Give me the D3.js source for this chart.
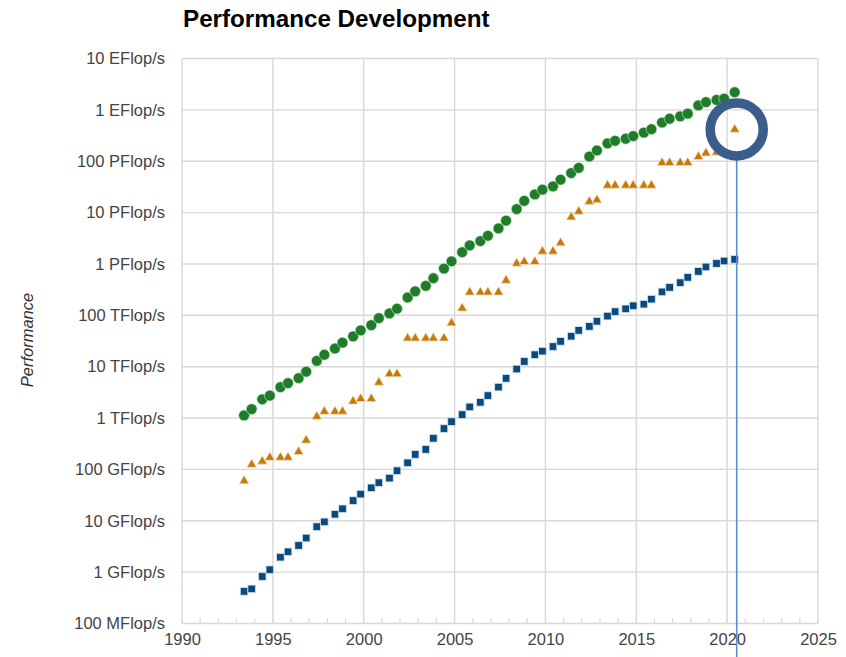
<!DOCTYPE html>
<html>
<head>
<meta charset="utf-8">
<script src="https://cdn.jsdelivr.net/npm/d3@7"></script>
<style>
  html, body { margin: 0; padding: 0; background: #fff; }
  svg { display: block; font-family: "Liberation Sans", Arial, sans-serif; }
</style>
</head>
<body>
<svg id="chart" width="846" height="657"></svg>
<script>
// TOP500 lists (year, month)
const lists = [
  "1993-06","1993-11","1994-06","1994-11","1995-06","1995-11","1996-06","1996-11",
  "1997-06","1997-11","1998-06","1998-11","1999-06","1999-11","2000-06","2000-11",
  "2001-06","2001-11","2002-06","2002-11","2003-06","2003-11","2004-06","2004-11",
  "2005-06","2005-11","2006-06","2006-11","2007-06","2007-11","2008-06","2008-11",
  "2009-06","2009-11","2010-06","2010-11","2011-06","2011-11","2012-06","2012-11",
  "2013-06","2013-11","2014-06","2014-11","2015-06","2015-11","2016-06","2016-11",
  "2017-06","2017-11","2018-06","2018-11","2019-06","2019-11","2020-06"
];
// values in GFlop/s
const sumPerf = [
  1128.6,1493.4,2317,2732,3994,4793,5981,7987,
  12970,17070,22600,29370,38930,50960,64260,88050,
  108800,134500,222400,293300,374600,527800,813100,1127000,
  1690000,2301000,2792000,3536000,4921000,6970000,11710000,16950000,
  22600000,27950000,32430000,43700000,58880000,74160000,123400000,162000000,
  223000000,250000000,274000000,309000000,361000000,420000000,566700000,672000000,
  749000000,845000000,1220000000,1414000000,1559000000,1650000000,2207000000
];
const n1Perf = [
  59.7,124.5,143.4,170.4,170.4,170.4,220.4,368.2,
  1068,1338,1338,1338,2121,2379,2379,4938,
  7226,7226,35860,35860,35860,35860,35860,70720,
  136800,280600,280600,280600,280600,478200,1026000,1105000,
  1105000,1759000,1759000,2566000,8162000,10510000,16324750,17590000,
  33862700,33862700,33862700,33862700,33862700,33862700,93014600,93014600,
  93014600,93014600,122300000,143500000,148600000,148600000,415530000
];
const n500Perf = [
  0.422,0.472,0.822,1.114,1.955,2.489,3.306,4.619,
  7.67,9.51,13.39,17.1,24.73,33.08,43.82,55.1,
  67.78,94.3,134.3,195.8,245.1,403.4,624,850.6,
  1166,1646,2026,2737,4005,5929,9000,12640,
  17090,20050,24670,31120,39190,50940,60820,76500,
  96620,117830,133700,153380,164860,206340,285880,349270,
  432200,548300,715550,874800,1021600,1142000,1228000
];
const yTickValues = [0.1,1,10,100,1e3,1e4,1e5,1e6,1e7,1e8,1e9,1e10];
const yTickLabels = ["100 MFlop/s","1 GFlop/s","10 GFlop/s","100 GFlop/s","1 TFlop/s","10 TFlop/s",
  "100 TFlop/s","1 PFlop/s","10 PFlop/s","100 PFlop/s","1 EFlop/s","10 EFlop/s"];
const xTickValues = [1990,1995,2000,2005,2010,2015,2020,2025];
const highlightList = "2020-06";

const toYear = s => { const [y, m] = s.split("-").map(Number); return y + (m - 1) / 12; };

const svg = d3.select("#chart");
const L = 182, R = 818, T = 58.5, B = 623.5;
const x = d3.scaleLinear().domain([1990, 2025]).range([L, R]);
const y = d3.scaleLog().domain([0.1, 1e10]).range([B, T]);
const grid = "#d8d8d8";

// title
svg.append("text").attr("x", L + 1).attr("y", 27)
  .attr("font-size", 24.2).attr("font-weight", "bold").attr("fill", "#000")
  .text("Performance Development");

// horizontal gridlines
svg.append("g").selectAll("line").data(yTickValues).join("line")
  .attr("x1", L).attr("x2", R).attr("y1", d => y(d)).attr("y2", d => y(d))
  .attr("stroke", grid).attr("stroke-width", 1.4);
// vertical gridlines
svg.append("g").selectAll("line").data(xTickValues).join("line")
  .attr("x1", d => x(d)).attr("x2", d => x(d)).attr("y1", T).attr("y2", B)
  .attr("stroke", grid).attr("stroke-width", 1.4);
// minor yearly ticks
svg.append("g").selectAll("line").data(d3.range(1990, 2026)).join("line")
  .attr("x1", d => x(d)).attr("x2", d => x(d)).attr("y1", B - 5).attr("y2", B)
  .attr("stroke", grid).attr("stroke-width", 1.2);

// y axis labels via axis
const yAxis = d3.axisLeft(y).tickValues(yTickValues)
  .tickFormat((d, i) => yTickLabels[i]).tickSize(0).tickPadding(17);
const gy = svg.append("g").attr("transform", `translate(${L},0)`).call(yAxis);
gy.select(".domain").remove();
gy.selectAll("text").attr("font-size", 16.5).attr("fill", "#444")
  .attr("font-family", "'Liberation Sans', Arial, sans-serif");

// x axis labels
const xAxis = d3.axisBottom(x).tickValues(xTickValues).tickFormat(d3.format("d"))
  .tickSize(0).tickPadding(10);
const gx = svg.append("g").attr("transform", `translate(0,${B})`).call(xAxis);
gx.select(".domain").remove();
gx.selectAll("text").attr("font-size", 16.5).attr("fill", "#444")
  .attr("font-family", "'Liberation Sans', Arial, sans-serif");

// y axis title
svg.append("text").attr("transform", `translate(33,340) rotate(-90)`)
  .attr("text-anchor", "middle").attr("font-size", 16.5).attr("font-style", "italic")
  .attr("fill", "#333").text("Performance");

// series
const rows = lists.map((s, i) => ({ t: toYear(s), sum: sumPerf[i], n1: n1Perf[i], n500: n500Perf[i] }));

svg.append("g").selectAll("rect").data(rows).join("rect")
  .attr("x", d => x(d.t) - 3.8).attr("y", d => y(d.n500) - 3.8)
  .attr("width", 7.6).attr("height", 7.6)
  .attr("fill", "#0b4a7c").attr("stroke", "#d5e3ef").attr("stroke-width", 0.8);

const tri = d3.symbol().type(d3.symbolTriangle).size(40);
svg.append("g").selectAll("path").data(rows).join("path")
  .attr("transform", d => `translate(${x(d.t)},${y(d.n1)})`)
  .attr("d", tri)
  .attr("fill", "#c57a0b").attr("stroke", "#f3dfc0").attr("stroke-width", 0.7);

svg.append("g").selectAll("circle").data(rows).join("circle")
  .attr("cx", d => x(d.t)).attr("cy", d => y(d.sum)).attr("r", 5.4)
  .attr("fill", "#1f7d2a").attr("stroke", "#d4e8d4").attr("stroke-width", 0.6);

// highlight
const h = rows[lists.indexOf(highlightList)];
const hx = x(h.t) + 2;
svg.append("line").attr("x1", hx).attr("x2", hx)
  .attr("y1", y(h.n1) + 27).attr("y2", 657)
  .attr("stroke", "#5a8dd0").attr("stroke-width", 1.6);
svg.append("circle").attr("cx", hx).attr("cy", y(h.n1))
  .attr("r", 26.5).attr("fill", "none").attr("stroke", "#3a5d8b").attr("stroke-width", 9.5);
</script>
</body>
</html>
